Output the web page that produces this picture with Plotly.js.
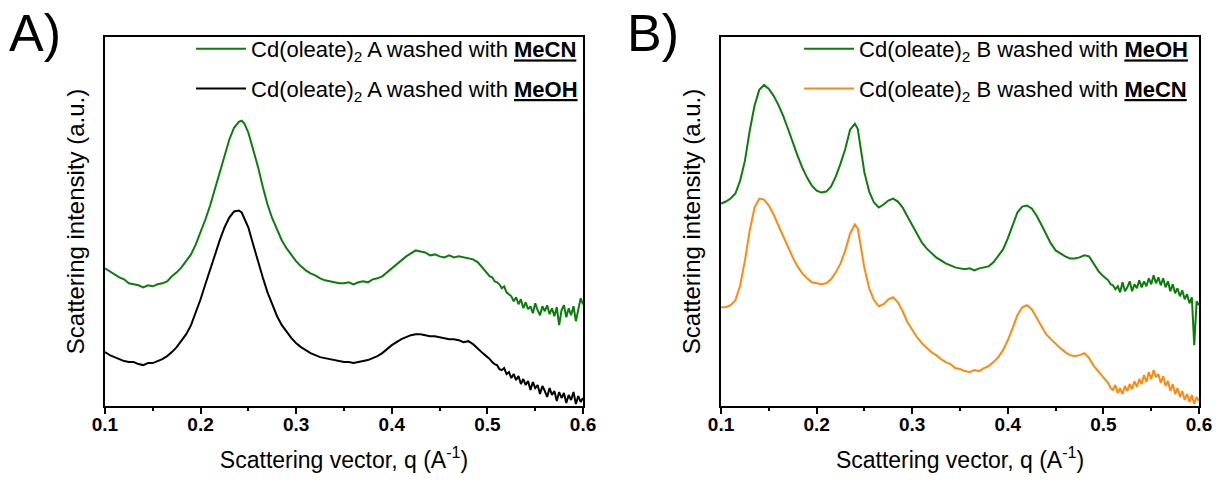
<!DOCTYPE html>
<html>
<head>
<meta charset="utf-8">
<script src="https://cdn.plot.ly/plotly-3.0.1.min.js"></script>
<style>html,body{margin:0;padding:0;background:#fff;}#chart{width:1219px;height:496px;}</style>
</head>
<body>
<div id="chart"></div>
<script>
// ---- Panel A data (q in 1/A, intensity in arbitrary units) ----
const qA = [0.100,0.105,0.110,0.115,0.120,0.125,0.130,0.135,0.140,0.145,0.150,0.155,0.160,0.165,0.170,0.175,0.180,0.185,0.190,0.195,0.200,0.205,0.210,0.215,0.220,0.225,0.230,0.235,0.240,0.243,0.246,
0.250,0.255,0.260,0.265,0.270,0.275,0.280,0.285,0.290,0.295,0.300,0.305,0.310,0.315,0.320,0.325,0.330,0.335,0.340,0.345,
0.350,0.355,0.360,0.365,0.370,0.375,0.380,0.385,0.390,0.395,0.400,0.405,0.410,0.415,0.420,0.425,0.430,0.435,0.440,0.445,
0.450,0.455,0.460,0.465,0.470,0.475,0.480,0.485,0.490,0.495,
0.5000,0.5025,0.5050,0.5075,0.5100,0.5125,0.5150,0.5175,0.5200,0.5225,0.5250,0.5275,0.5300,0.5325,0.5350,0.5375,0.5400,0.5425,0.5450,0.5475,
0.5500,0.5525,0.5550,0.5575,0.5600,0.5625,0.5650,0.5675,0.5700,0.5725,0.5750,0.5775,0.5800,0.5825,0.5850,0.5875,0.5900,0.5925,0.5950,0.5975,0.6000];
const intA_MeCN = [137,134,131,128,126,122,121,120,118,120,119,121,122,124,129,133,138,144,151,161,173,186,200,216,233,250,266,278,284,285,282,
273,257,239,219,201,187,175,165,157,150,144,139,135,132,130,127,125,124,123,122,
122,123,121,123,124,123,126,127,129,133,137,141,145,149,152,155,154,153,150,151,
149,148,150,148,149,148,147,146,143,137,
132,129,128,124,123,121,117,119,113,111,109,104,108,101,106,97,103,96,99,92,
102,95,90,99,94,100,91,97,89,98,80,95,100,88,97,90,99,84,96,107,101];
const intA_MeOH = [53,50,48,46,44,43,43,41,40,42,42,44,46,49,53,58,64,71,80,92,106,121,136,151,165,178,188,194,195,193,187,
178,161,144,128,113,100,89,80,73,67,62,58,55,52,50,48,47,46,45,44,
43,43,42,43,44,45,47,49,52,56,60,63,66,68,70,71,71,70,69,69,
68,67,66,66,65,63,64,61,56,52,
48,46,43,41,40,36,35,37,31,33,27,31,25,29,21,26,20,24,15,23,
17,20,11,19,14,8,17,10,14,4,13,7,12,2,10,5,13,1,9,3,7];

// ---- Panel B data ----
const qB = [0.100,0.105,0.110,0.115,0.120,0.125,0.130,0.135,0.140,0.145,0.150,0.155,0.160,0.165,0.170,0.175,0.180,0.185,0.190,0.195,0.200,0.205,0.210,0.215,0.220,0.225,0.230,0.235,0.240,0.243,0.246,
0.250,0.255,0.260,0.265,0.270,0.275,0.280,0.285,0.290,0.295,0.300,0.305,0.310,0.315,0.320,0.325,0.330,0.335,0.340,0.345,
0.350,0.355,0.360,0.365,0.370,0.375,0.380,0.385,0.390,0.395,0.400,0.405,0.410,0.415,0.420,0.425,0.430,0.435,0.440,0.445,
0.450,0.455,0.460,0.465,0.470,0.475,0.480,0.485,0.490,0.495,
0.5000,0.5025,0.5050,0.5075,0.5100,0.5125,0.5150,0.5175,0.5200,0.5225,0.5250,0.5275,0.5300,0.5325,0.5350,0.5375,0.5400,0.5425,0.5450,0.5475,
0.5500,0.5525,0.5550,0.5575,0.5600,0.5625,0.5650,0.5675,0.5700,0.5725,0.5750,0.5775,0.5800,0.5825,0.5850,0.5875,0.5900,0.5925,0.5950,0.5975,0.6000];
const intB_MeOH = [202,204,207,212,225,245,275,300,316,321,317,310,301,290,277,263,250,238,228,220,215,213,214,219,229,242,257,276,282,277,260,
233,214,203,198,201,205,207,204,198,189,180,171,163,157,152,148,145,142,140,138,
137,136,137,135,137,138,139,143,150,156,167,181,193,199,200,197,190,181,172,162,
155,152,149,147,147,148,150,149,142,134,
129,127,125,121,120,116,119,113,123,114,118,124,114,121,117,125,118,124,119,127,
121,130,122,128,120,127,118,124,114,121,112,117,109,115,106,111,102,108,60,104,100];
const intB_MeCN = [98,98,100,105,120,145,175,198,207,206,200,191,180,169,158,148,139,132,127,123,122,121,122,126,133,142,155,172,181,177,160,
137,117,105,99,101,106,108,103,94,83,75,68,62,57,53,50,46,43,41,37,
36,34,33,35,34,37,39,43,48,55,65,77,90,98,100,96,88,79,71,66,
61,57,53,50,49,50,52,47,39,33,
27,25,22,17,15,20,12,17,11,19,14,21,16,24,18,26,21,30,23,33,
26,35,28,31,22,29,19,24,14,21,11,17,8,14,5,11,3,10,1,8,4];

const xTickVals = [0.1,0.2,0.3,0.4,0.5,0.6];
const xTickText = ['0.1','0.2','0.3','0.4','0.5','0.6'];

const legA = ['Cd(oleate)<sub>2</sub> A washed with <b><u>MeCN</u></b>', 'Cd(oleate)<sub>2</sub> A washed with <b><u>MeOH</u></b>'];
const legB = ['Cd(oleate)<sub>2</sub> B washed with <b><u>MeOH</u></b>', 'Cd(oleate)<sub>2</sub> B washed with <b><u>MeCN</u></b>'];

const GREEN = '#0b7d0b', ORANGE = '#ff8a12', BLACK = '#000000';
const FONT = 'Liberation Sans, Arial, sans-serif';

const traces = [
  {x: qA, y: intA_MeCN, type: 'scatter', mode: 'lines', name: legA[0], line: {color: GREEN, width: 2}, xaxis: 'x', yaxis: 'y', legend: 'legend', legendgroup: 'a1'},
  {x: qA, y: intA_MeOH, type: 'scatter', mode: 'lines', name: legA[1], line: {color: BLACK, width: 2}, xaxis: 'x', yaxis: 'y', legend: 'legend', legendgroup: 'a2'},
  {x: qB, y: intB_MeOH, type: 'scatter', mode: 'lines', name: legB[0], line: {color: GREEN, width: 2}, xaxis: 'x2', yaxis: 'y2', legend: 'legend2', legendgroup: 'b1'},
  {x: qB, y: intB_MeCN, type: 'scatter', mode: 'lines', name: legB[1], line: {color: ORANGE, width: 2}, xaxis: 'x2', yaxis: 'y2', legend: 'legend2', legendgroup: 'b2'}
];

function xax(domain, anchor) {
  return {
    domain: domain, anchor: anchor, range: [0.1, 0.6],
    showline: true, mirror: true, linecolor: '#000', linewidth: 2,
    showgrid: false, zeroline: false,
    ticks: 'outside', ticklen: 6, tickwidth: 2, tickcolor: '#000',
    tickvals: xTickVals, ticktext: xTickText.map(t => '<b>' + t + '</b>'),
    tickfont: {family: FONT, size: 19, color: '#000'},
    ticklabelstandoff: -6,
    minor: {ticks: 'outside', ticklen: 3, tickwidth: 2, tickcolor: '#000', dtick: 0.05, tick0: 0.05},
    title: {text: 'Scattering vector, q (A<sup>-1</sup>)', font: {family: FONT, size: 23, color: '#000'}, standoff: 18},
    automargin: false
  };
}
function yax(anchor) {
  return {
    domain: [0.1815, 0.9254], anchor: anchor, range: [-1, 369],
    showline: true, mirror: true, linecolor: '#000', linewidth: 2,
    showgrid: false, zeroline: false, ticks: '', showticklabels: false,
    title: {text: 'Scattering intensity (a.u.)', font: {family: FONT, size: 24, color: '#000'}, standoff: 12},
    automargin: false
  };
}

const legendBase = {
  bgcolor: 'rgba(0,0,0,0)', borderwidth: 0, traceorder: 'grouped', tracegroupgap: 8, itemwidth: 50,
  font: {family: FONT, size: 22, color: '#000'}, xanchor: 'right', yanchor: 'top'
};

const layout = {
  width: 1219, height: 496,
  margin: {l: 0, r: 0, t: 0, b: 0},
  paper_bgcolor: '#fff', plot_bgcolor: '#fff',
  showlegend: true,
  xaxis: xax([0.0861, 0.4783], 'y'),
  yaxis: yax('x'),
  xaxis2: xax([0.5915, 0.9836], 'y2'),
  yaxis2: yax('x2'),
  legend: Object.assign({}, legendBase, {x: 0.4783, y: 0.9435}),
  legend2: Object.assign({}, legendBase, {x: 0.9787, y: 0.9435}),
  annotations: [
    {text: 'A)', xref: 'paper', yref: 'paper', x: 0.006, y: 0.995, xanchor: 'left', yanchor: 'top', showarrow: false, font: {family: FONT, size: 52, color: '#000'}},
    {text: 'B)', xref: 'paper', yref: 'paper', x: 0.513, y: 0.995, xanchor: 'left', yanchor: 'top', showarrow: false, font: {family: FONT, size: 52, color: '#000'}}
  ]
};

Plotly.newPlot('chart', traces, layout, {displayModeBar: false, staticPlot: true});
</script>
</body>
</html>
